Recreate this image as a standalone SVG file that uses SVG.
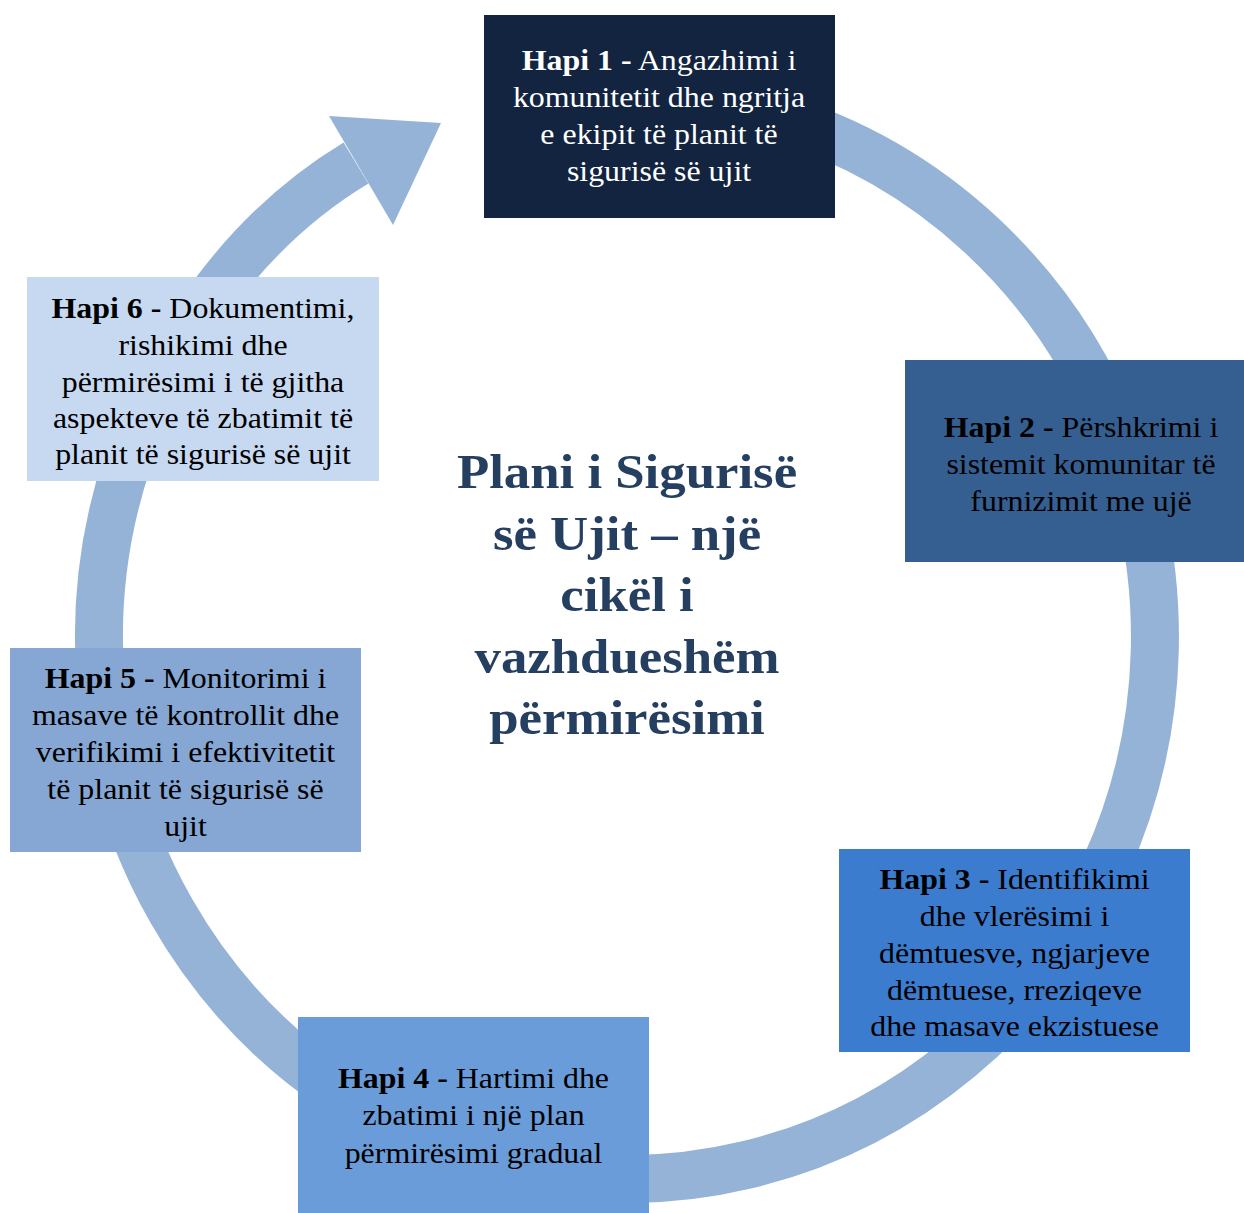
<svg xmlns="http://www.w3.org/2000/svg" width="1244" height="1213" viewBox="0 0 1244 1213">
<style>
.t{font-family:"Liberation Serif","Times New Roman",serif;font-size:29px;text-anchor:middle;fill:#000}
.w{fill:#fff}
.b{font-weight:bold}
.title{font-family:"Liberation Serif","Times New Roman",serif;font-size:48px;font-weight:bold;text-anchor:middle;fill:#243F60}
</style>
<rect width="1244" height="1213" fill="#fff"/>
<g id="connectors">
<path d="M560,99.4 A528,542 0 1 1 127.9,460 C169,338.1 246,229.4 356,163" fill="none" stroke="#95B3D7" stroke-width="48"/>
<polygon points="329,116 441,123 393,225" fill="#95B3D7"/>
</g>
<g id="step1">
<rect x="484" y="15" width="351" height="203" fill="#12243F"/>
<text class="t w" transform="translate(659 0) scale(1.1 1)"><tspan x="0" y="70"><tspan class="b">Hapi 1 -</tspan> Angazhimi i</tspan><tspan x="0" y="107">komunitetit dhe ngritja</tspan><tspan x="0" y="144">e ekipit të planit të</tspan><tspan x="0" y="181">sigurisë së ujit</tspan></text>
</g>
<g id="step2">
<rect x="905" y="360" width="339" height="202" fill="#355F91"/>
<text class="t" transform="translate(1081 0) scale(1.1 1)"><tspan x="0" y="437"><tspan class="b">Hapi 2 -</tspan> Përshkrimi i</tspan><tspan x="0" y="474">sistemit komunitar të</tspan><tspan x="0" y="511">furnizimit me ujë</tspan></text>
</g>
<g id="step3">
<rect x="839" y="849" width="351" height="203" fill="#3B7CCF"/>
<text class="t" transform="translate(1014.5 0) scale(1.1 1)"><tspan x="0" y="889"><tspan class="b">Hapi 3 -</tspan> Identifikimi</tspan><tspan x="0" y="926">dhe vlerësimi i</tspan><tspan x="0" y="963">dëmtuesve, ngjarjeve</tspan><tspan x="0" y="1000">dëmtuese, rreziqeve</tspan><tspan x="0" y="1036">dhe masave ekzistuese</tspan></text>
</g>
<g id="step4">
<rect x="298" y="1017" width="351" height="196" fill="#6A9CD9"/>
<text class="t" transform="translate(473.5 0) scale(1.1 1)"><tspan x="0" y="1088"><tspan class="b">Hapi 4 -</tspan> Hartimi dhe</tspan><tspan x="0" y="1125">zbatimi i një plan</tspan><tspan x="0" y="1163">përmirësimi gradual</tspan></text>
</g>
<g id="step5">
<rect x="10" y="648" width="351" height="204" fill="#86A7D3"/>
<text class="t" transform="translate(185.5 0) scale(1.1 1)"><tspan x="0" y="688"><tspan class="b">Hapi 5 -</tspan> Monitorimi i</tspan><tspan x="0" y="725">masave të kontrollit dhe</tspan><tspan x="0" y="762">verifikimi i efektivitetit</tspan><tspan x="0" y="799">të planit të sigurisë së</tspan><tspan x="0" y="836">ujit</tspan></text>
</g>
<g id="step6">
<rect x="27" y="277" width="352" height="204" fill="#C6D9F1"/>
<text class="t" transform="translate(203 0) scale(1.1 1)"><tspan x="0" y="318"><tspan class="b">Hapi 6 -</tspan> Dokumentimi,</tspan><tspan x="0" y="355">rishikimi dhe</tspan><tspan x="0" y="392">përmirësimi i të gjitha</tspan><tspan x="0" y="428">aspekteve të zbatimit të</tspan><tspan x="0" y="464">planit të sigurisë së ujit</tspan></text>
</g>
<g id="title">
<text class="title" transform="translate(627 0) scale(1.1 1)"><tspan x="0" y="488">Plani i Sigurisë</tspan><tspan x="0" y="550">së Ujit – një</tspan><tspan x="0" y="611">cikël i</tspan><tspan x="0" y="673">vazhdueshëm</tspan><tspan x="0" y="734">përmirësimi</tspan></text>
</g>
</svg>
